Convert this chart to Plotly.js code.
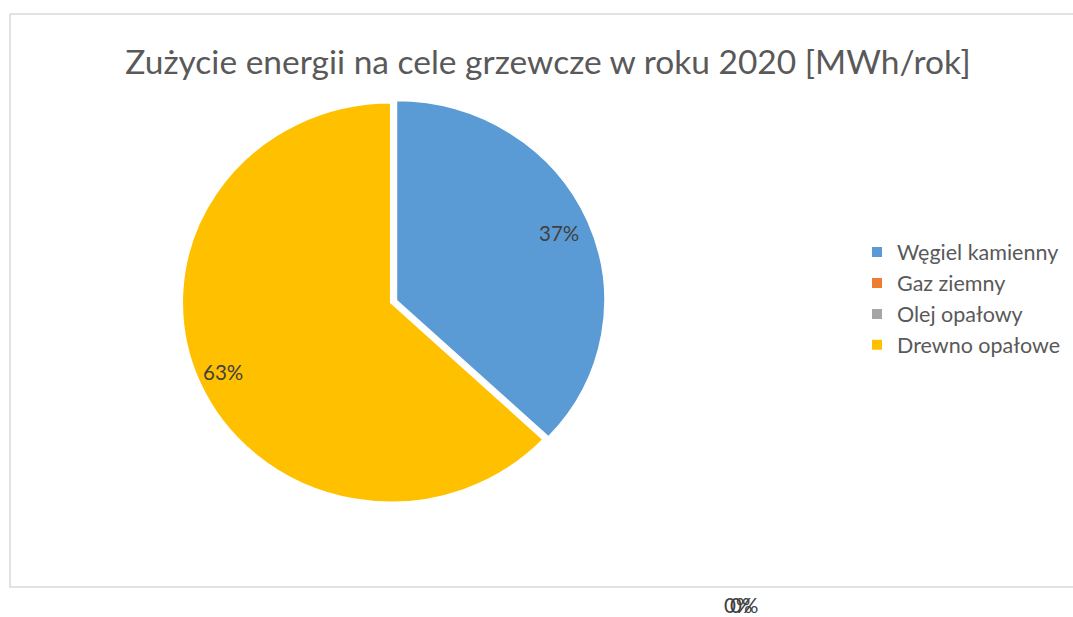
<!DOCTYPE html>
<html><head><meta charset="utf-8">
<script src="https://cdn.plot.ly/plotly-3.0.1.min.js"></script>
<style>body{margin:0;background:#fff}#chart{width:1073px;height:617px}</style>
</head><body><div id="chart"></div>
<script>
const titleText = 'Zużycie energii na cele grzewcze w roku 2020 [MWh/rok]';
const categories = ['Węgiel kamienny', 'Gaz ziemny', 'Olej opałowy', 'Drewno opałowe'];
const values = [37, 0, 0, 63];
const colors = ['#5B9BD5', '#ED7D31', '#A5A5A5', '#FFC000'];
const pulls = [0.027, 0, 0, 0];

const W = 1073, H = 617;
const px = x => x / W, py = y => 1 - y / H;
const cx = 391, cy = 302.5, R = 200, SX = 1.045;
const total = values.reduce((a, b) => a + b, 0);
const labelFont = {family: 'Lato, sans-serif', size: 20.5, color: '#404040'};

const annotations = [];
let acc = 0;
let zeroIdx = 0;
values.forEach((v, i) => {
  const pct = Math.round(v / total * 100) + '%';
  if (v > 0) {
    const mid = (acc + v / 2) / total * 2 * Math.PI;
    const r = R * 0.875;
    annotations.push({
      x: px(cx + SX * r * Math.sin(mid)), y: py(cy - r * Math.cos(mid)),
      xref: 'paper', yref: 'paper', xanchor: 'center', yanchor: 'middle',
      text: pct, showarrow: false, font: labelFont
    });
  } else {
    annotations.push({
      x: px(738 + zeroIdx * 6), y: py(605), xref: 'paper', yref: 'paper',
      xanchor: 'center', yanchor: 'middle', borderpad: 0,
      text: pct, showarrow: false, font: labelFont
    });
    zeroIdx++;
  }
  acc += v;
});

const m = 1 + Math.max(...pulls);
const data = [{
  type: 'pie', labels: categories, values: values, sort: false,
  direction: 'clockwise', rotation: 0, pull: pulls,
  marker: {colors: colors, line: {color: '#ffffff', width: 2}},
  textinfo: 'none', hoverinfo: 'label+value+percent',
  domain: {x: [px(cx - R * m), px(cx + R * m)], y: [py(cy + R * m), py(cy - R * m)]}
}];

const layout = {
  width: W, height: H, margin: {l: 0, r: 0, t: 0, b: 0},
  paper_bgcolor: '#ffffff',
  title: {text: titleText, x: 548 / W, xanchor: 'center', y: py(62), yanchor: 'middle',
          font: {family: 'Lato, sans-serif', size: 33.5, color: '#595959'}},
  showlegend: true,
  legend: {x: px(857), xanchor: 'left', y: py(298.5), yanchor: 'middle',
           font: {family: 'Lato, sans-serif', size: 21.5, color: '#595959'},
           tracegroupgap: 0, itemwidth: 30},
  shapes: [{type: 'rect', xref: 'paper', yref: 'paper',
            x0: px(10), x1: px(1080), y0: py(587), y1: py(14),
            line: {color: '#D9D9D9', width: 1.5}}],
  annotations: annotations
};
Plotly.newPlot('chart', data, layout, {displayModeBar: false}).then(gd => {
  const stretch = () => {
    const g = gd.querySelector('.pielayer');
    if (g) g.setAttribute('transform', `translate(${cx},0) scale(${SX},1) translate(${-cx},0)`);
  };
  stretch();
  gd.on('plotly_afterplot', stretch);
});
</script></body></html>
